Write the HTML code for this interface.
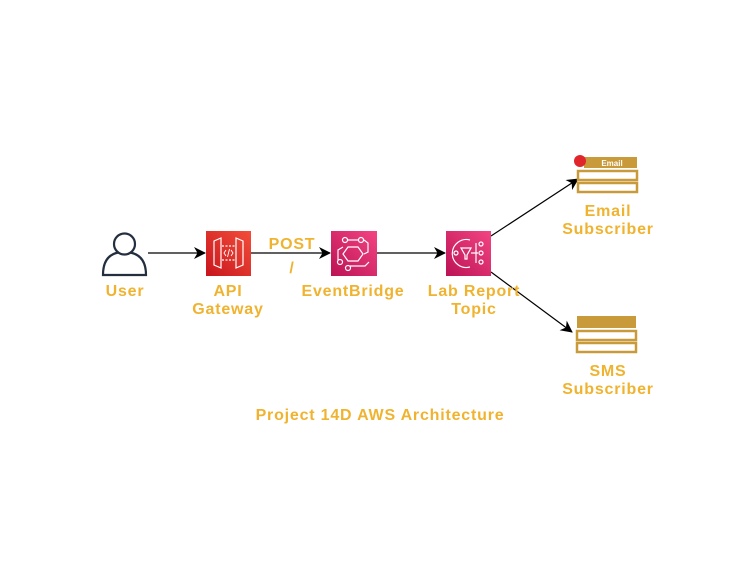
<!DOCTYPE html>
<html><head><meta charset="utf-8"><style>
html,body{margin:0;padding:0;background:#fff;width:754px;height:565px;overflow:hidden}
text{font-family:"Liberation Sans",sans-serif;font-weight:bold;font-size:16px;letter-spacing:0.8px;fill:#F0B330;text-anchor:middle}
</style></head><body>
<svg width="754" height="565" viewBox="0 0 754 565" xmlns="http://www.w3.org/2000/svg">
<defs>
<marker id="a" markerWidth="12" markerHeight="12" refX="11" refY="6" orient="auto" markerUnits="userSpaceOnUse">
<path d="M0,0 L12,6 L0,12 L3.5,6 Z" fill="#000"/></marker>
<linearGradient id="gr" x1="0" y1="1" x2="1" y2="0"><stop offset="0" stop-color="#C8161D"/><stop offset="1" stop-color="#F34D3A"/></linearGradient>
<linearGradient id="gp" x1="0" y1="1" x2="1" y2="0"><stop offset="0" stop-color="#BC1356"/><stop offset="1" stop-color="#F34482"/></linearGradient>
</defs>
<g fill="#fff" stroke="#232F3E" stroke-width="2.2">
<path d="M103,275 Q103,252 124,252 Q146,252 146,275 Z"/>
<circle cx="124.5" cy="244" r="10.5"/>
</g>
<g stroke="#000" stroke-width="1.2" fill="none" marker-end="url(#a)">
<line x1="148" y1="253" x2="205" y2="253"/>
<line x1="251" y1="253" x2="330" y2="253"/>
<line x1="377" y1="253" x2="445" y2="253"/>
<line x1="491" y1="236" x2="578" y2="179"/>
<line x1="491" y1="272" x2="572" y2="332"/>
</g>
<rect x="206" y="231" width="45" height="45" fill="url(#gr)"/>
<g stroke="#fff" stroke-width="1.2" fill="none">
<path d="M214,241 L221,238 L221,268 L214,265 Z"/>
<path d="M243,241 L236,238 L236,268 L243,265 Z"/>
<line x1="222" y1="246" x2="235" y2="246" stroke-dasharray="2,1.5"/>
<line x1="222" y1="260" x2="235" y2="260" stroke-dasharray="2,1.5"/>
<path d="M226,250 L224,253 L226,256 M231,250 L233,253 L231,256 M229.5,249 L227.5,257" stroke-width="0.9"/>
</g>
<rect x="331" y="231" width="46" height="45" fill="url(#gp)"/>
<g stroke="#fff" stroke-width="1.2" fill="none">
<path d="M348,247 L358,247 L363,254 L358,261 L348,261 L343,254 Z"/>
<circle cx="345" cy="240" r="2.5"/><circle cx="361" cy="240" r="2.5"/>
<circle cx="340" cy="262" r="2.5"/><circle cx="348" cy="268" r="2.5"/>
<path d="M348,240 L358,240 M364,240 L368,243 L368,252 L364,254 M343,247 L338,250 L338,260 M350,266 L365,266 L369,262"/>
</g>
<rect x="446" y="231" width="45" height="45" fill="url(#gp)"/>
<g stroke="#fff" stroke-width="1.2" fill="none">
<path d="M470,240 A14,14 0 1 0 470,267"/>
<circle cx="456" cy="253" r="2"/>
<path d="M461,248 L471,248 L467,255 L467,259 L465,259 L465,255 Z"/>
<path d="M471,253 L478,253 M476,243 L476,263"/>
<circle cx="481" cy="244" r="2"/><circle cx="481" cy="253" r="2"/><circle cx="481" cy="262" r="2"/>
</g>
<rect x="584" y="157" width="53" height="11" fill="#C99A3A"/>
<text x="612" y="166" style="font-size:8px;letter-spacing:0;fill:#fff">Email</text>
<rect x="578" y="171" width="59" height="9" fill="#fff" stroke="#C99A3A" stroke-width="2.5"/>
<rect x="578" y="183" width="59" height="9" fill="#fff" stroke="#C99A3A" stroke-width="2.5"/>
<circle cx="580" cy="161" r="6" fill="#E0262B"/>
<rect x="577" y="316" width="59" height="12" fill="#C99A3A"/>
<rect x="577" y="331" width="59" height="9" fill="#fff" stroke="#C99A3A" stroke-width="2.5"/>
<rect x="577" y="343" width="59" height="9" fill="#fff" stroke="#C99A3A" stroke-width="2.5"/>
<text x="125" y="296">User</text>
<text x="228" y="296">API</text>
<text x="228" y="314">Gateway</text>
<text x="292" y="249">POST</text>
<text x="292" y="273">/</text>
<text x="353" y="296">EventBridge</text>
<text x="474" y="296">Lab Report</text>
<text x="474" y="314">Topic</text>
<text x="608" y="216">Email</text>
<text x="608" y="234">Subscriber</text>
<text x="608" y="376">SMS</text>
<text x="608" y="394">Subscriber</text>
<text x="380" y="420">Project 14D AWS Architecture</text>
</svg>
</body></html>
